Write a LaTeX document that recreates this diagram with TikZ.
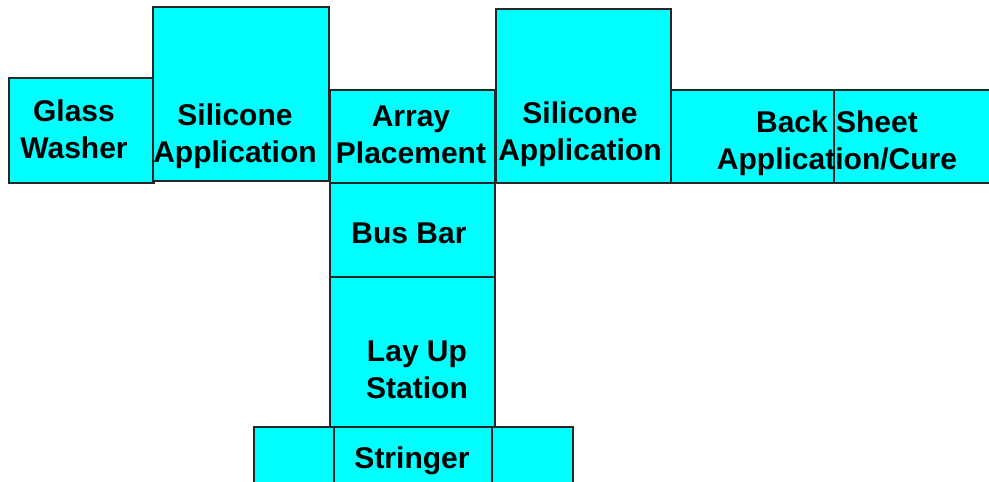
\documentclass[tikz,border=0pt]{standalone}
\usepackage{fontspec}
\setmainfont{Liberation Sans}
\usetikzlibrary{positioning}
\definecolor{aqua}{RGB}{0,255,255}

\begin{document}
\begin{tikzpicture}[x=1pt,y=-1pt]
\tikzstyle{S}=[draw=black!85,line width=1.2pt,fill=aqua,anchor=north west,inner sep=0pt,outer sep=0pt]
\tikzstyle{T}=[align=center,anchor=base,inner sep=0pt,font=\bfseries\fontsize{30}{37}\selectfont]
\useasboundingbox (0,0) rectangle (989,482);
\clip (0,0) rectangle (989,482);
% top row
\node[S,minimum width=145pt,minimum height=105pt] (gw) at (9,78) {};
\node[S,minimum width=176pt,minimum height=174pt] (sa1) at (153,7) {};
\node[S,minimum width=165pt,minimum height=93pt] (ap) at (330,90) {};
\node[S,minimum width=175pt,minimum height=174pt] (sa2) at (496,9) {};
\node[S,minimum width=163pt,minimum height=93pt] (bs1) at (671,90) {};
\node[S,minimum width=170pt,minimum height=93pt] (bs2) at (834,90) {};
% column
\node[S,minimum width=165pt,minimum height=94pt] (bb) at (330,183) {};
\node[S,minimum width=165pt,minimum height=150pt] (lu) at (330,277) {};
\node[S,minimum width=80pt,minimum height=70pt] (st1) at (254,427) {};
\node[S,minimum width=158pt,minimum height=70pt] (st2) at (334,427) {};
\node[S,minimum width=81pt,minimum height=70pt] (st3) at (492,427) {};
% labels (base = last line)
\node[T] (gwt) at (74,158) {Glass\\Washer};
\node[T] (sa1t) at (235,162) {Silicone\\Application};
\node[T] (apt) at (411,163) {Array\\Placement};
\node[T] (sa2t) at (580,160) {Silicone\\Application};
\node[T] (bst) at (837,169) {Back Sheet\\Application/Cure};
\node[T] (bbt) at (409,243) {Bus Bar};
\node[T] (lut) at (417,398) {Lay Up\\Station};
\node[T] (stt) at (412,468) {Stringer};
\end{tikzpicture}
\end{document}
